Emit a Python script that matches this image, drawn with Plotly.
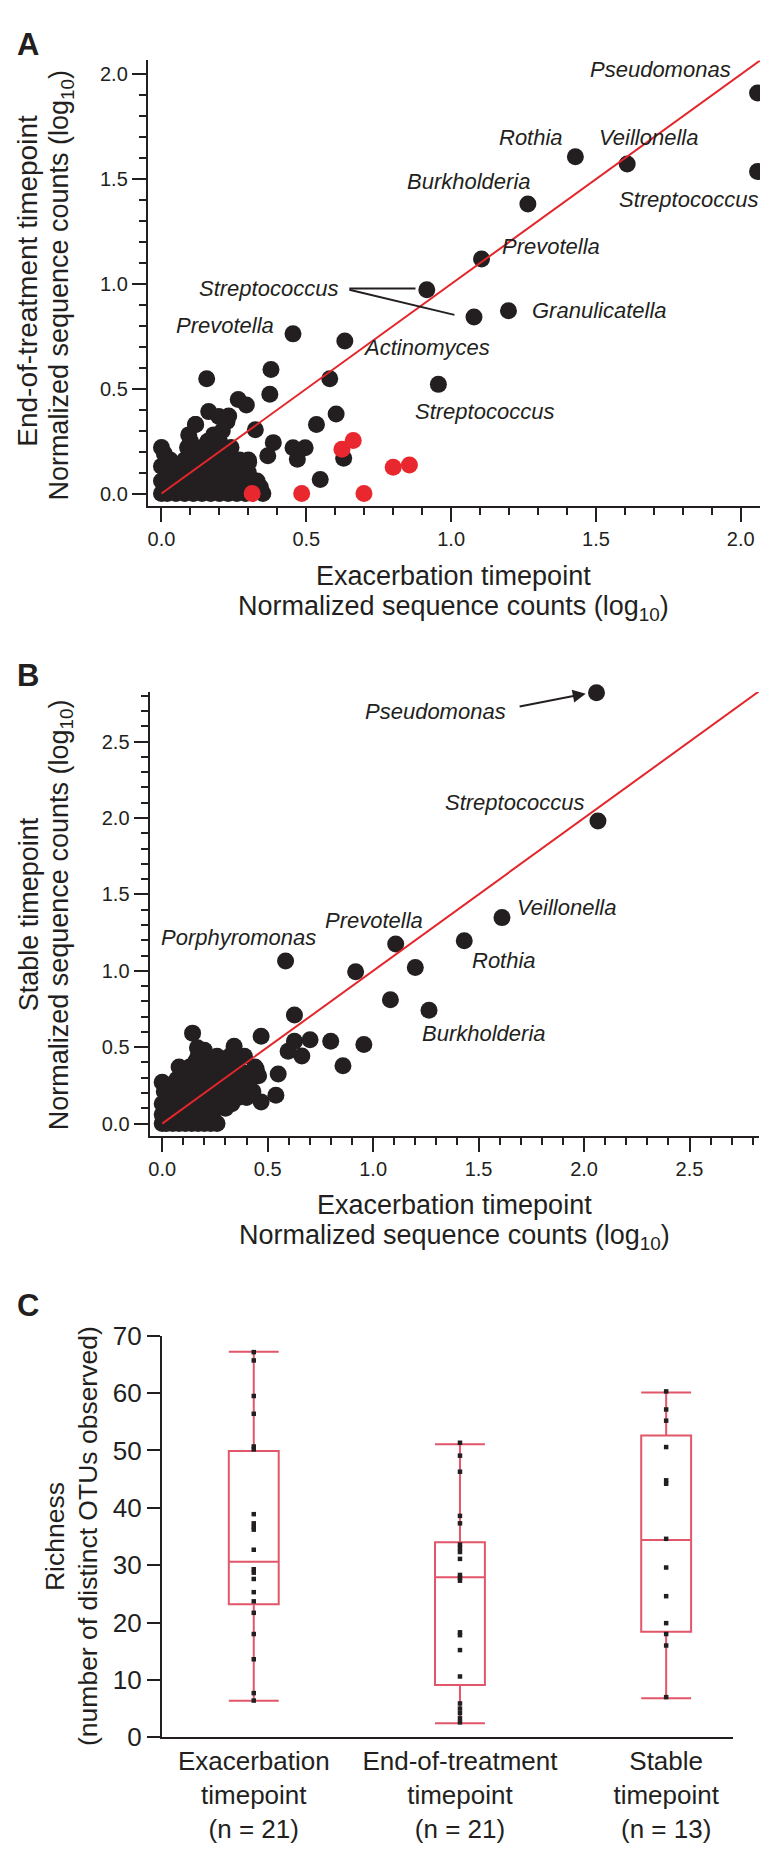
import plotly.graph_objects as go

W, H = 768, 1852

# ---------------- Panel A data (log10 normalized counts) ----------------
a_black_x = [2.058, 2.058, 1.429, 1.608, 1.265, 1.105, 0.916, 1.079, 1.198, 0.454, 0.633, 0.956,
             0.378, 0.581, 0.156, 0.374, 0.265, 0.293, 0.163, 0.198, 0.226, 0.603, 0.535, 0.118,
             0.548, 0.629, 0.454, 0.496, 0.469, 0.386, 0.367, 0.324, 0.341, 0.301,
             0.00, 0.02, 0.05, 0.08, 0.11, 0.14, 0.17, 0.20, 0.23, 0.26, 0.29, 0.35,
             0.01, 0.04, 0.07, 0.10, 0.13, 0.16, 0.19, 0.22, 0.25, 0.28, 0.34,
             0.00, 0.03, 0.06, 0.09, 0.12, 0.15, 0.18, 0.21, 0.24, 0.27, 0.30, 0.33,
             0.02, 0.05, 0.08, 0.11, 0.14, 0.17, 0.20, 0.23, 0.26, 0.30,
             0.00, 0.04, 0.07, 0.10, 0.13, 0.16, 0.19, 0.22, 0.25, 0.28,
             0.03, 0.08, 0.12, 0.15, 0.18, 0.21, 0.27, 0.30,
             0.01, 0.10, 0.13, 0.17, 0.20, 0.23,
             0.00, 0.09, 0.14, 0.19, 0.24,
             0.10, 0.16, 0.20,
             0.094, 0.18, 0.21, 0.117, 0.232]
a_black_y = [1.912, 1.537, 1.607, 1.573, 1.382, 1.119, 0.973, 0.842, 0.872, 0.762, 0.728, 0.521,
             0.592, 0.548, 0.548, 0.474, 0.449, 0.423, 0.391, 0.368, 0.344, 0.380, 0.329, 0.329,
             0.067, 0.168, 0.219, 0.219, 0.164, 0.243, 0.180, 0.305, 0.031, 0.149,
             0.00, 0.00, 0.00, 0.00, 0.00, 0.00, 0.00, 0.00, 0.00, 0.00, 0.00, 0.00,
             0.03, 0.03, 0.03, 0.03, 0.03, 0.03, 0.03, 0.03, 0.03, 0.03, 0.03,
             0.06, 0.06, 0.06, 0.06, 0.06, 0.06, 0.06, 0.06, 0.06, 0.06, 0.06, 0.06,
             0.10, 0.10, 0.10, 0.10, 0.10, 0.10, 0.10, 0.10, 0.10, 0.10,
             0.13, 0.13, 0.13, 0.13, 0.13, 0.13, 0.13, 0.13, 0.13, 0.13,
             0.16, 0.16, 0.16, 0.16, 0.16, 0.16, 0.16, 0.16,
             0.19, 0.19, 0.19, 0.19, 0.19, 0.19,
             0.22, 0.22, 0.22, 0.22, 0.22,
             0.25, 0.25, 0.25,
             0.28, 0.28, 0.30, 0.33, 0.37]
a_red_x = [0.313, 0.484, 0.699, 0.623, 0.662, 0.800, 0.856]
a_red_y = [0.000, 0.000, 0.000, 0.211, 0.253, 0.125, 0.136]

# ---------------- Panel B data ----------------
b_black_x = [2.059, 2.066, 1.611, 1.432, 1.107, 1.200, 0.585, 0.917, 1.082, 1.265,
             0.627, 0.956, 0.857, 0.799, 0.701, 0.627, 0.597, 0.662, 0.469, 0.550,
             0.539, 0.469, 0.341, 0.144, 0.167, 0.000, 0.446, 0.457,
             0.00, 0.02, 0.05, 0.08, 0.11, 0.14, 0.17, 0.20, 0.23, 0.26,
             0.01, 0.04, 0.10, 0.15, 0.19,
             0.00, 0.03, 0.06, 0.09, 0.12, 0.16, 0.20, 0.23,
             0.02, 0.05, 0.10, 0.14, 0.18, 0.22, 0.26, 0.30,
             0.00, 0.04, 0.08, 0.12, 0.20, 0.25, 0.28, 0.33,
             0.03, 0.07, 0.13, 0.17, 0.22, 0.27, 0.31, 0.36, 0.40,
             0.01, 0.06, 0.10, 0.15, 0.19, 0.24, 0.29, 0.34, 0.38, 0.43,
             0.04, 0.09, 0.14, 0.20, 0.26, 0.31, 0.36,
             0.07, 0.12, 0.17, 0.23, 0.28, 0.33, 0.41,
             0.10, 0.15, 0.21, 0.26, 0.30, 0.39,
             0.08, 0.13, 0.18, 0.24, 0.35, 0.44,
             0.16, 0.22, 0.27, 0.34,
             0.17, 0.26, 0.32, 0.39,
             0.20, 0.34]
b_black_y = [2.820, 1.981, 1.348, 1.197, 1.176, 1.021, 1.064, 0.994, 0.811, 0.742,
             0.710, 0.517, 0.378, 0.539, 0.549, 0.539, 0.474, 0.442, 0.571, 0.324,
             0.185, 0.142, 0.506, 0.592, 0.496, 0.270, 0.356, 0.313,
             0.00, 0.00, 0.00, 0.00, 0.00, 0.00, 0.00, 0.00, 0.00, 0.00,
             0.03, 0.03, 0.03, 0.03, 0.03,
             0.06, 0.06, 0.06, 0.06, 0.06, 0.06, 0.06, 0.06,
             0.10, 0.10, 0.10, 0.10, 0.10, 0.10, 0.10, 0.10,
             0.13, 0.13, 0.13, 0.13, 0.13, 0.13, 0.13, 0.13,
             0.17, 0.17, 0.17, 0.17, 0.17, 0.17, 0.17, 0.17, 0.17,
             0.21, 0.21, 0.21, 0.21, 0.21, 0.21, 0.21, 0.21, 0.21, 0.21,
             0.25, 0.25, 0.25, 0.25, 0.25, 0.25, 0.25,
             0.29, 0.29, 0.29, 0.29, 0.29, 0.29, 0.29,
             0.33, 0.33, 0.33, 0.33, 0.33, 0.33,
             0.37, 0.37, 0.37, 0.37, 0.37, 0.37,
             0.41, 0.41, 0.41, 0.41,
             0.44, 0.44, 0.44, 0.44,
             0.48, 0.48]

# ---------------- Panel C data (richness) ----------------
c_categories = ["Exacerbation<br>timepoint<br>(n = 21)",
                "End-of-treatment<br>timepoint<br>(n = 21)",
                "Stable<br>timepoint<br>(n = 13)"]
c_lowerfence = [6.35, 2.46, 6.8]
c_q1 = [23.2, 9.1, 18.4]
c_median = [30.6, 27.9, 34.4]
c_q3 = [49.9, 34.0, 52.6]
c_upperfence = [67.2, 51.1, 60.1]
c_exacerbation = [67.15, 65.7, 59.5, 56.4, 50.7, 50.2, 38.9, 37.3, 36.7, 36.2, 32.7,
                  29.3, 28.7, 27.6, 25.3, 23.7, 21.7, 18.0, 13.6, 7.7, 6.4]
c_end_treatment = [51.35, 49.1, 46.3, 38.6, 37.3, 33.6, 33.0, 32.3, 31.1, 28.3, 27.8,
                   27.3, 18.3, 17.8, 15.2, 10.6, 5.9, 5.0, 4.2, 3.3, 2.6]
c_stable = [60.3, 57.15, 55.2, 50.6, 44.8, 44.2, 34.6, 29.6, 24.6, 19.9, 18.0, 16.0, 7.0]

# ---------------- styling ----------------
FONT = "Liberation Sans, Arial, Helvetica, sans-serif"
INK = "#231F20"
RED = "#E8282E"
LINE_RED = "#E3262B"
BOX = "#E2566A"

# pixel geometry of the three plot areas
A_X0, A_PX0, A_SX = 139.0, 152.7, 290.0     # axis-line x, pixel of x=0, px per unit
A_XMAX = 2.07
A_YB, A_PY0, A_SY = 491.0, 478.3, 213.0
A_YMAX = 2.067
B_X0, B_PX0, B_SX = 140.7, 153.4, 211.2
B_XMAX = 2.83
B_YB, B_PY0, B_SY = 1131.7, 1118.7, 155.3
B_YMAX = 2.825


def px_x(p):
    return p / W


def px_y(p):
    return 1 - p / H


fig = go.Figure()

# Panel A
fig.add_trace(go.Scatter(x=a_black_x, y=a_black_y, mode="markers", xaxis="x", yaxis="y",
                         marker=dict(size=17, color=INK, line=dict(width=0)), cliponaxis=False,
                         hoverinfo="skip"))
fig.add_trace(go.Scatter(x=a_red_x, y=a_red_y, mode="markers", xaxis="x", yaxis="y",
                         marker=dict(size=17, color=RED, line=dict(width=0)), cliponaxis=False,
                         hoverinfo="skip"))
fig.add_trace(go.Scatter(x=[0, A_YMAX], y=[0, A_YMAX], mode="lines", xaxis="x", yaxis="y",
                         line=dict(color=LINE_RED, width=2), cliponaxis=False, hoverinfo="skip"))

# Panel B
fig.add_trace(go.Scatter(x=b_black_x, y=b_black_y, mode="markers", xaxis="x2", yaxis="y2",
                         marker=dict(size=17, color=INK, line=dict(width=0)), cliponaxis=False,
                         hoverinfo="skip"))
fig.add_trace(go.Scatter(x=[0, B_XMAX], y=[0, B_XMAX], mode="lines", xaxis="x2", yaxis="y2",
                         line=dict(color=LINE_RED, width=2), cliponaxis=False, hoverinfo="skip"))

# Panel C
fig.add_trace(go.Box(x=[0, 1, 2], q1=c_q1, median=c_median, q3=c_q3,
                     lowerfence=c_lowerfence, upperfence=c_upperfence,
                     xaxis="x3", yaxis="y3", width=0.242, whiskerwidth=1,
                     line=dict(color=BOX, width=2), fillcolor="rgba(0,0,0,0)",
                     boxpoints=False, hoverinfo="skip"))
for i, vals in enumerate([c_exacerbation, c_end_treatment, c_stable]):
    fig.add_trace(go.Scatter(x=[i] * len(vals), y=vals, mode="markers", xaxis="x3", yaxis="y3",
                             marker=dict(symbol="square", size=4.5, color=INK, line=dict(width=0)),
                             cliponaxis=False, hoverinfo="skip"))

tick_font = dict(family=FONT, size=20, color=INK)
minor = dict(dtick=0.1, tick0=0, ticklen=7, tickwidth=2, tickcolor=INK, ticks="outside",
             showgrid=False)
common = dict(showline=True, linewidth=2, linecolor=INK, ticks="outside", ticklen=14,
              tickwidth=2, tickcolor=INK, showgrid=False, zeroline=False, tickfont=tick_font,
              tick0=0, dtick=0.5, tickformat=".1f", minor=minor, fixedrange=True)

a_xmin = (A_X0 - A_PX0) / A_SX
a_ymin = (A_PY0 - A_YB) / A_SY
b_xmin = (B_X0 - B_PX0) / B_SX
b_ymin = (B_PY0 - B_YB) / B_SY

fig.update_layout(
    width=W, height=H, margin=dict(l=0, r=0, t=0, b=0),
    paper_bgcolor="white", plot_bgcolor="white", showlegend=False,
    font=dict(family=FONT, color=INK),
    xaxis=dict(domain=[px_x(A_X0), px_x(A_PX0 + A_XMAX * A_SX)], range=[a_xmin, A_XMAX],
               anchor="y", **common),
    yaxis=dict(domain=[px_y(A_YB), px_y(A_PY0 - A_YMAX * A_SY)], range=[a_ymin, A_YMAX],
               anchor="x", **common),
    xaxis2=dict(domain=[px_x(B_X0), px_x(B_PX0 + B_XMAX * B_SX)], range=[b_xmin, B_XMAX],
                anchor="y2", **common),
    yaxis2=dict(domain=[px_y(B_YB), px_y(B_PY0 - B_YMAX * B_SY)], range=[b_ymin, B_YMAX],
                anchor="x2", **common),
    xaxis3=dict(domain=[px_x(153), px_x(724.5)], range=[-0.446, 2.322], anchor="y3",
                showline=True, linewidth=2, linecolor=INK, ticks="", showgrid=False,
                zeroline=False, tickvals=[0, 1, 2], ticktext=c_categories,
                tickfont=dict(family=FONT, size=26, color=INK), fixedrange=True),
    yaxis3=dict(domain=[px_y(1742.5), px_y(1334.4)], range=[0, 70], anchor="x3",
                showline=True, linewidth=2, linecolor=INK, ticks="outside", ticklen=13,
                tickwidth=2, tickcolor=INK, showgrid=False, zeroline=False, dtick=10, tick0=0,
                tickfont=dict(family=FONT, size=26, color=INK), fixedrange=True),
)

ann = []


def label_px(text, xpx, ypx, xanchor, size=22):
    ann.append(dict(text="<i>" + text + "</i>", x=px_x(xpx), y=px_y(ypx), xref="paper",
                    yref="paper", xanchor=xanchor, yanchor="middle", showarrow=False,
                    font=dict(family=FONT, size=size, color=INK)))


def label_a(text, x, y, xanchor):
    label_px(text, A_PX0 + x * A_SX, A_PY0 - y * A_SY, xanchor)


def label_b(text, x, y, xanchor):
    label_px(text, B_PX0 + x * B_SX, B_PY0 - y * B_SY, xanchor)


# Panel A labels
label_a("Pseudomonas", 1.974, 2.025, "right")
label_a("Rothia", 1.394, 1.701, "right")
label_a("Veillonella", 1.502, 1.701, "left")
label_a("Burkholderia", 1.281, 1.49, "right")
label_a("Streptococcus", 2.066, 1.405, "right")
label_a("Prevotella", 1.17, 1.18, "left")
label_a("Streptococcus", 0.618, 0.977, "right")
label_a("Granulicatella", 1.273, 0.875, "left")
label_a("Prevotella", 0.394, 0.80, "right")
label_a("Actinomyces", 0.69, 0.695, "left")
label_a("Streptococcus", 0.867, 0.39, "left")

# Panel B labels
label_b("Pseudomonas", 1.64, 2.696, "right")
label_b("Streptococcus", 2.007, 2.104, "right")
label_b("Veillonella", 1.674, 1.415, "left")
label_b("Rothia", 1.461, 1.067, "left")
label_b("Prevotella", 0.761, 1.331, "left")
label_b("Porphyromonas", 0.737, 1.215, "right")
label_b("Burkholderia", 1.22, 0.59, "left")

# arrow for Pseudomonas in B
ann.append(dict(text="", x=2.008, y=2.814, xref="x2", yref="y2", ax=1.6875, ay=2.728,
                axref="x2", ayref="y2", showarrow=True, arrowhead=2, arrowsize=1.3,
                arrowwidth=2, arrowcolor=INK, standoff=0, startstandoff=0))


def plain(text, xpx, ypx, size, angle=0, bold=False):
    ann.append(dict(text=("<b>" + text + "</b>") if bold else text,
                    x=px_x(xpx), y=px_y(ypx), xref="paper", yref="paper",
                    xanchor="center" if not bold else "left", yanchor="middle",
                    textangle=angle, showarrow=False,
                    font=dict(family=FONT, size=size, color=INK)))


SUB = "Normalized sequence counts (log<sub>10</sub>)"
# axis titles
plain("Exacerbation timepoint", 445, 562, 27)
plain(SUB, 445, 595, 27)
plain("End-of-treatment timepoint", 19, 262, 28, -90)
plain(SUB, 52, 266, 27, -90)

plain("Exacerbation timepoint", 446, 1201, 27)
plain(SUB, 446, 1234, 27)
plain("Stable timepoint", 20, 906, 27, -90)
plain(SUB, 52, 906, 27, -90)

plain("Richness", 46, 1538, 26.5, -90)
plain("(number of distinct OTUs observed)", 79, 1538, 26.5, -90)

# panel letters
plain("A", 6, 22, 31, bold=True)
plain("B", 6, 663, 31, bold=True)
plain("C", 6, 1304, 31, bold=True)

fig.update_layout(annotations=ann)

# leader lines for Streptococcus in A
fig.add_shape(type="line", x0=0.6486, y0=0.978, x1=0.877, y1=0.978, xref="x", yref="y",
              line=dict(color=INK, width=2))
fig.add_shape(type="line", x0=0.6486, y0=0.973, x1=1.0114, y1=0.8526, xref="x", yref="y",
              line=dict(color=INK, width=2))

fig.write_html("out.html")
